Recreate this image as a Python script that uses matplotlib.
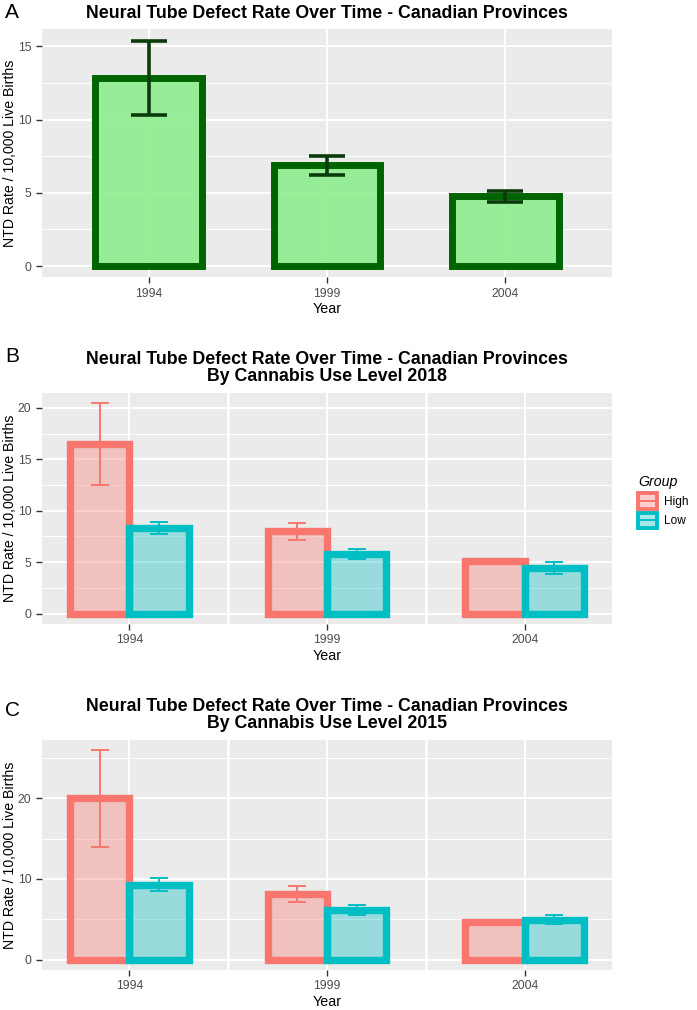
import numpy as np
import matplotlib
matplotlib.use('Agg')
import matplotlib.pyplot as plt
from matplotlib.patches import Patch, Rectangle
from matplotlib.lines import Line2D

plt.rcParams['font.family'] = ['Liberation Sans', 'DejaVu Sans']

# Data
years = ['1994', '1999', '2004']

a_rate = [12.85, 6.87, 4.75]
a_err = [2.55, 0.62, 0.37]

b_high = [16.47, 7.98, 5.06]
b_high_err = [3.98, 0.83, np.nan]
b_low = [8.28, 5.81, 4.47]
b_low_err = [0.58, 0.47, 0.58]

c_high = [20.0, 8.12, 4.64]
c_high_err = [6.02, 1.03, np.nan]
c_low = [9.28, 6.19, 4.97]
c_low_err = [0.83, 0.62, 0.52]

groups = ['High', 'Low']
HIGH_COL = '#F8766D'
LOW_COL = '#00BFC4'
HIGH_FILL = (0.973, 0.463, 0.427, 0.35)
LOW_FILL = (0.0, 0.749, 0.769, 0.35)
W, H = 697, 1010
PL, PR = 41.7, 612.3  # panel left / right in pixels


class BarKeyHandler:
    # ggplot-like key: outlined box with the errorbar line across the middle
    def legend_artist(self, legend, orig_handle, fontsize, handlebox):
        x0, y0 = handlebox.xdescent, handlebox.ydescent
        w, h = handlebox.width, handlebox.height
        rect = Rectangle((-x0, -y0), w, h, facecolor=orig_handle.get_facecolor(),
                         edgecolor=orig_handle.get_edgecolor(), linewidth=2.8,
                         transform=handlebox.get_transform())
        line = Line2D([-x0, -x0 + w], [-y0 + h / 2] * 2, color=orig_handle.get_edgecolor(),
                      lw=1.4, transform=handlebox.get_transform())
        handlebox.add_artist(rect)
        handlebox.add_artist(line)
        return rect


def px_axes(fig, top, bottom):
    return fig.add_axes([PL / W, 1 - bottom / H, (PR - PL) / W, (bottom - top) / H])


def style_axes(ax, yticks, ylim, xlim, minor):
    ax.set_facecolor('#EBEBEB')
    ax.set_xlim(*xlim)
    ax.set_ylim(*ylim)
    ax.set_xticks([1, 2, 3])
    ax.set_xticklabels(years)
    ax.set_yticks(yticks)
    ax.set_yticks(minor, minor=True)
    ax.grid(True, which='major', color='white', lw=1.4, zorder=0)
    ax.grid(True, which='minor', axis='y', color='white', lw=0.7, zorder=0)
    ax.set_axisbelow(True)
    for s in ax.spines.values():
        s.set_visible(False)
    ax.tick_params(axis='both', which='major', labelsize=8.8, labelcolor='#4D4D4D',
                   color='#333333', length=4, width=1)
    ax.tick_params(axis='y', which='minor', length=0)
    ax.set_xlabel('Year', fontsize=10.3, labelpad=2)
    ax.set_ylabel('NTD Rate / 10,000 Live Births', fontsize=10.2)
    ax.yaxis.set_label_coords(-0.043, 0.5)


def draw_errors(ax, x, y, err, color, lw, cap):
    for xi, yi, ei in zip(x, y, err):
        if np.isnan(ei):
            continue
        ax.errorbar(xi, yi, yerr=ei, fmt='none', ecolor=color, elinewidth=lw,
                    capsize=cap, capthick=lw, zorder=4)


def grouped_panel(ax, high, high_err, low, low_err, yticks, ylim, minor):
    style_axes(ax, yticks, ylim, (0.557, 3.443), minor)
    x = np.arange(1, 4)
    bw = 0.3
    ax.axvline(1.5, color='white', lw=1.8, zorder=1)
    ax.axvline(2.5, color='white', lw=1.8, zorder=1)
    for i in range(3):
        ax.bar(x[i] - bw / 2, high[i], width=bw, facecolor=HIGH_FILL,
               edgecolor=HIGH_COL, linewidth=5.3, zorder=2)
        ax.bar(x[i] + bw / 2, low[i], width=bw, facecolor=LOW_FILL,
               edgecolor=LOW_COL, linewidth=5.3, zorder=2)
    draw_errors(ax, x - bw / 2, high, high_err, HIGH_COL, 1.4, 6.4)
    draw_errors(ax, x + bw / 2, low, low_err, LOW_COL, 1.4, 6.4)


fig = plt.figure(figsize=(W / 100, H / 100), dpi=100)
title_x = (PL + PR) / 2 / W

# Panel A
axA = px_axes(fig, 29.3, 277.3)
style_axes(axA, [0, 5, 10, 15], (-0.77, 16.17), (0.4, 3.6), [2.5, 7.5, 12.5])
axA.bar([1, 2, 3], a_rate, width=0.6, facecolor=(0.565, 0.933, 0.565, 0.92),
        edgecolor='#006400', linewidth=5.0, zorder=2)
draw_errors(axA, [1, 2, 3], a_rate, a_err, '#0B3B0B', 2.6, 13)
fig.text(title_x, 1 - 13 / H, 'Neural Tube Defect Rate Over Time - Canadian Provinces',
         ha='center', va='center', fontsize=12.8, fontweight='bold')
fig.text(5 / W, 1 - 13 / H, 'A', ha='left', va='center', fontsize=15)

# Panel B
axB = px_axes(fig, 392.7, 624)
grouped_panel(axB, b_high, b_high_err, b_low, b_low_err,
              [0, 5, 10, 15, 20], (-1.02, 21.47), [2.5, 7.5, 12.5, 17.5])
fig.text(title_x, 1 - 368 / H,
         'Neural Tube Defect Rate Over Time - Canadian Provinces\nBy Cannabis Use Level 2018',
         ha='center', va='center', fontsize=12.8, fontweight='bold', linespacing=1.0)
fig.text(5 / W, 1 - 356 / H, 'B', ha='left', va='center', fontsize=15)

# Panel C
axC = px_axes(fig, 740, 970)
grouped_panel(axC, c_high, c_high_err, c_low, c_low_err,
              [0, 10, 20], (-1.30, 27.26), [5, 15, 25])
fig.text(title_x, 1 - 715 / H,
         'Neural Tube Defect Rate Over Time - Canadian Provinces\nBy Cannabis Use Level 2015',
         ha='center', va='center', fontsize=12.8, fontweight='bold', linespacing=1.0)
fig.text(5 / W, 1 - 710 / H, 'C', ha='left', va='center', fontsize=15)

# Legend for panel B
handles = [Patch(facecolor=HIGH_FILL, edgecolor=HIGH_COL),
           Patch(facecolor=LOW_FILL, edgecolor=LOW_COL)]
leg = fig.legend(handles, groups, loc='upper left', bbox_to_anchor=(638 / W, 1 - 475 / H),
                 frameon=False, fontsize=8.6, title='Group', borderpad=0, borderaxespad=0,
                 title_fontproperties={'size': 10.2, 'style': 'italic'},
                 handler_map={Patch: BarKeyHandler()},
                 handlelength=1.55, handleheight=1.6, handletextpad=0.6, labelspacing=0.35)
leg._legend_box.align = 'left'

fig.savefig('out.png', dpi=100)
